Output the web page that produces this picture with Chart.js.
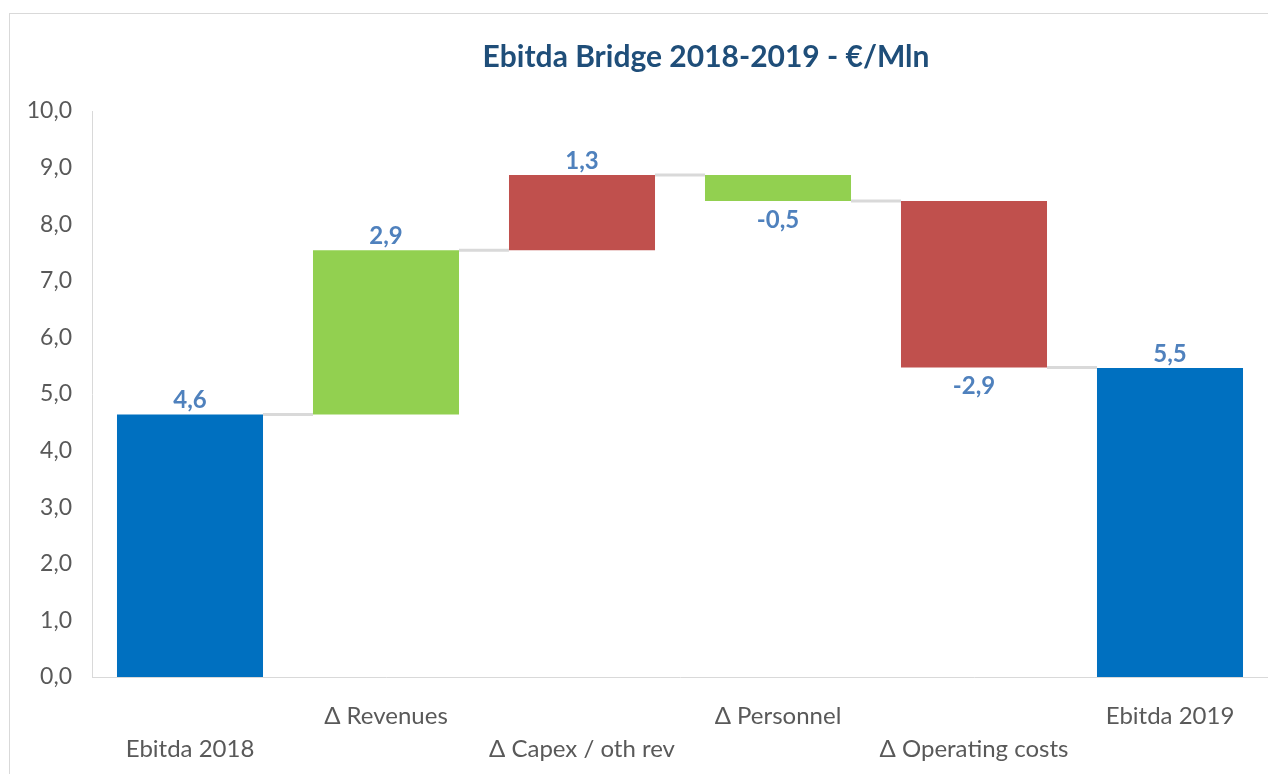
<!DOCTYPE html>
<html>
<head>
<meta charset="utf-8">
<script src="https://cdn.jsdelivr.net/npm/chart.js@4.4.1/dist/chart.umd.min.js"></script>
<style>
  html, body { margin: 0; padding: 0; background: #fff; overflow: hidden; }
  #frame { position: absolute; left: 9px; top: 13px; width: 1300px; height: 800px; border: 1px solid #d9d9d9; }
  #wrap { position: absolute; left: 0; top: 0; width: 1268px; height: 774px; }
</style>
</head>
<body>
<div id="frame"></div>
<div id="wrap"><canvas id="chart" width="1268" height="774"></canvas></div>
<script>
const chartTitle = 'Ebitda Bridge 2018-2019 - €/Mln';
const categories = ['Ebitda 2018', 'Δ Revenues', 'Δ Capex / oth rev', 'Δ Personnel', 'Δ Operating costs', 'Ebitda 2019'];
const startValue = 4.64;
const deltas = [2.9, 1.33, -0.46, -2.94];
const endValue = 5.46;
const barColors = ['#0070C0', '#92D050', '#C0504D', '#92D050', '#C0504D', '#0070C0'];
const yTicks = [0, 1, 2, 3, 4, 5, 6, 7, 8, 9, 10];

const fmt = v => v.toFixed(1).replace('.', ',');

// floating ranges for the waterfall
let ranges = [[0, startValue]];
let shown = [startValue];
let level = startValue;
deltas.forEach(d => {
  ranges.push([level, level + d]);
  shown.push(d);
  level += d;
});
ranges.push([0, endValue]);
shown.push(endValue);

// staggered axis labels like Excel
const xLabels = categories.map((c, i) => i % 2 ? [c, ''] : ['', c]);

const bridge = {
  id: 'bridge',
  afterDatasetsDraw(chart) {
    const ctx = chart.ctx;
    const bars = chart.getDatasetMeta(0).data;
    const y = chart.scales.y;
    ctx.save();
    ctx.strokeStyle = '#D9D9D9';
    ctx.lineWidth = 3;
    for (let i = 0; i < bars.length - 1; i++) {
      const a = bars[i], b = bars[i + 1];
      const py = y.getPixelForValue(ranges[i][1]);
      ctx.beginPath();
      ctx.moveTo(a.x + a.width / 2, py);
      ctx.lineTo(b.x - b.width / 2, py);
      ctx.stroke();
    }
    ctx.font = 'bold 24px Lato';
    ctx.fillStyle = '#4F81BD';
    ctx.textAlign = 'center';
    bars.forEach((bar, i) => {
      const top = Math.min(bar.y, bar.base);
      const bottom = Math.max(bar.y, bar.base);
      if (shown[i] >= 0) {
        ctx.textBaseline = 'bottom';
        ctx.fillText(fmt(shown[i]), bar.x, top - 2);
      } else {
        ctx.textBaseline = 'top';
        ctx.fillText(fmt(shown[i]), bar.x, bottom + 7);
      }
    });
    ctx.font = 'bold 30px Lato';
    ctx.fillStyle = '#1F4E79';
    ctx.textBaseline = 'middle';
    ctx.fillText(chartTitle, 706, 57);
    ctx.restore();
  }
};

new Chart(document.getElementById('chart'), {
  type: 'bar',
  data: {
    labels: xLabels,
    datasets: [{
      data: ranges,
      backgroundColor: barColors,
      borderWidth: 0,
      categoryPercentage: 1,
      barPercentage: 0.745
    }]
  },
  options: {
    responsive: false,
    animation: false,
    layout: { padding: { top: 111, left: 0, right: 0, bottom: 0 } },
    plugins: {
      legend: { display: false },
      tooltip: { enabled: false }
    },
    scales: {
      x: {
        grid: { display: false },
        border: { color: '#D9D9D9', width: 1 },
        ticks: {
          color: '#595959',
          font: { family: 'Lato', size: 24, lineHeight: 1.375 },
          padding: 15,
          maxRotation: 0,
          autoSkip: false
        },
        afterFit: s => { s.height = 97; }
      },
      y: {
        min: 0,
        max: 10,
        afterBuildTicks: s => { s.ticks = yTicks.map(v => ({ value: v })); },
        grid: { display: false, drawTicks: false },
        border: { color: '#D9D9D9', width: 1 },
        ticks: {
          color: '#595959',
          font: { family: 'Lato', size: 23 },
          padding: 20,
          callback: v => fmt(v)
        },
        afterFit: s => { s.width = 92; }
      }
    }
  },
  plugins: [bridge]
});
</script>
</body>
</html>
